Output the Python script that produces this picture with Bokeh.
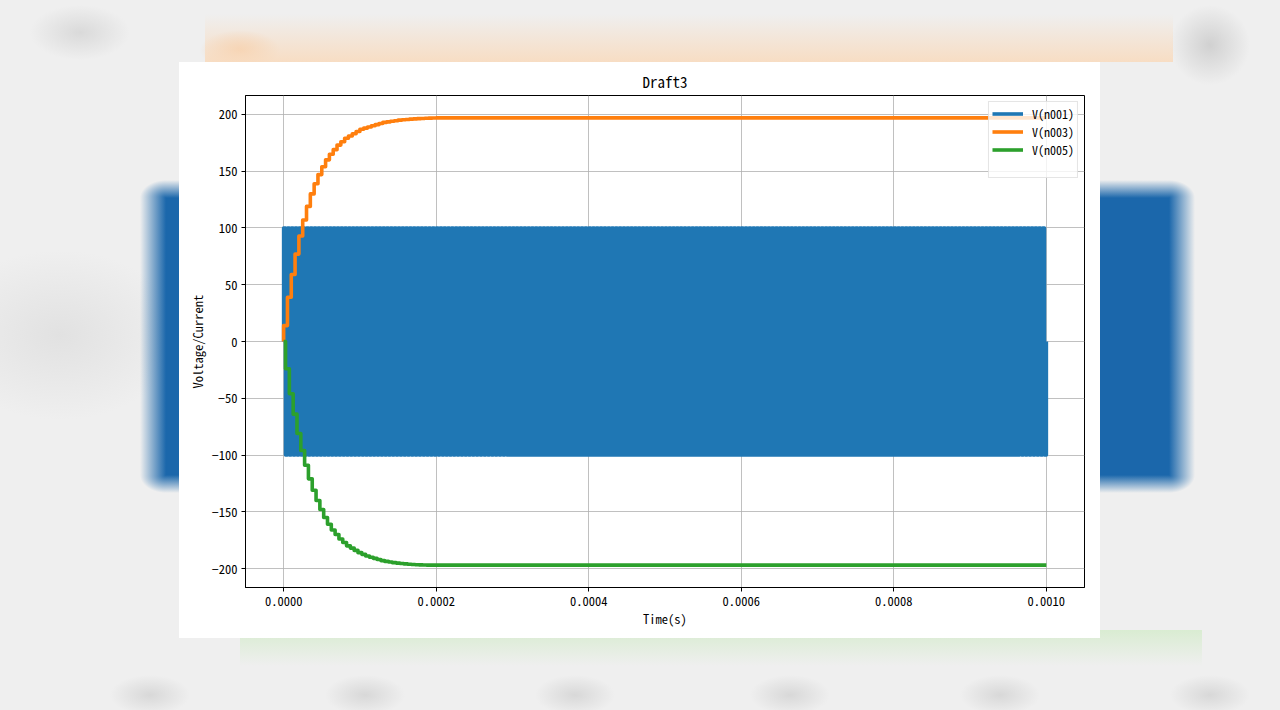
from bokeh.plotting import figure
from bokeh.models import FixedTicker, Range1d, LegendItem
from bokeh.embed import file_html
from bokeh.resources import INLINE

# ---------------- data ----------------
title_text = "Draft3"
x_label = "Time(s)"
y_label = "Voltage/Current"
series_names = ["V(n001)", "V(n003)", "V(n005)"]
series_colors = ["#1f77b4", "#ff7f0e", "#2ca02c"]

x_ticks = [0.0, 0.0002, 0.0004, 0.0006, 0.0008, 0.0010]
x_tick_labels = ["0.0000", "0.0002", "0.0004", "0.0006", "0.0008", "0.0010"]
y_ticks = [-200, -150, -100, -50, 0, 50, 100, 150, 200]
y_tick_labels = ["\u2212200", "\u2212150", "\u2212100", "\u221250", "0", "50", "100", "150", "200"]

# V(n001): square wave source
src_levels = [100.0, -100.0]     # high / low level
src_period = 5e-6                # one cycle (s)
t_end = 0.001                    # end of simulation (s)

# V(n003): level after each source cycle (charging staircase)
n003_levels = [14, 39, 59, 77, 93, 107, 119, 130, 139, 147, 154, 160, 165,
               169, 173, 176, 179, 181, 183, 185, 187, 188, 189, 190, 191,
               192, 193, 193.5, 194, 194.5, 195, 195.3, 195.6, 195.9, 196.1,
               196.3, 196.5, 196.7, 196.8, 196.9, 197]
# V(n005): level after each source cycle (negative staircase, half cycle later)
n005_levels = [-24, -46, -64, -81, -96, -109, -121, -131, -140, -148, -155,
               -161, -166, -170, -174, -177, -180, -182, -184, -186, -187.5,
               -189, -190, -191, -192, -193, -193.7, -194.3, -194.8, -195.2,
               -195.6, -195.9, -196.2, -196.4, -196.6, -196.8, -196.9, -197]

# ---------------- build the traces ----------------
n_cycles = int(round(t_end / src_period))
src_x, src_y = [0.0], [0.0]
for k in range(n_cycles):
    t0 = k * src_period
    th = t0 + src_period / 2
    t1 = t0 + src_period
    src_x += [t0, th, th, t1]
    src_y += [src_levels[0], src_levels[0], src_levels[1], src_levels[1]]
src_x.append(t_end)
src_y.append(0.0)


def staircase(levels, shift):
    xs, ys = [0.0], [0.0]
    prev = 0.0
    for k, lv in enumerate(levels):
        t = (k + shift) * src_period
        xs += [t, t]
        ys += [prev, lv]
        prev = lv
    xs.append(t_end)
    ys.append(prev)
    return xs, ys


n003_x, n003_y = staircase(n003_levels, 0.0)
n005_x, n005_y = staircase(n005_levels, 0.5)

all_y = src_y + n003_y + n005_y
ymin, ymax = min(all_y), max(all_y)
ypad = 0.05 * (ymax - ymin)
xpad = 0.05 * t_end

# ---------------- figure ----------------
FONT = "'Noto Sans Mono CJK SC', 'Noto Sans CJK SC', 'DejaVu Sans Mono'"

BLUE = "#1b67ab"
BLUE0 = "rgba(27,103,171,0)"
GREY_BLOB = "radial-gradient(closest-side, rgba(210,210,210,0.8), rgba(210,210,210,0))"
background = ", ".join([
    # white card holding the chart
    "linear-gradient(#ffffff,#ffffff) 179px 62px / 921px 576px no-repeat",
    # blue blurred block behind the card
    f"radial-gradient(ellipse 26px 18px at 100% 100%, {BLUE}, {BLUE0}) 140px 180px / 26px 18px no-repeat",
    f"radial-gradient(ellipse 26px 18px at 0% 100%, {BLUE}, {BLUE0}) 1169px 180px / 26px 18px no-repeat",
    f"radial-gradient(ellipse 26px 18px at 100% 0%, {BLUE}, {BLUE0}) 140px 475px / 26px 18px no-repeat",
    f"radial-gradient(ellipse 26px 18px at 0% 0%, {BLUE}, {BLUE0}) 1169px 475px / 26px 18px no-repeat",
    f"linear-gradient(to bottom, {BLUE0}, {BLUE}) 166px 180px / 1003px 18px no-repeat",
    f"linear-gradient(to top, {BLUE0}, {BLUE}) 166px 475px / 1003px 18px no-repeat",
    f"linear-gradient(to right, {BLUE0} 0px, {BLUE} 26px, {BLUE} 1029px, {BLUE0} 1055px) 140px 198px / 1055px 277px no-repeat",
    # orange glow above the card
    "linear-gradient(to bottom, rgba(250,224,200,0), rgba(249,218,188,0.85)) 205px 14px / 968px 48px no-repeat",
    "radial-gradient(closest-side, rgba(245,190,140,0.7), rgba(245,190,140,0)) 200px 30px / 80px 40px no-repeat",
    # green glow below the card
    "linear-gradient(to top, rgba(222,239,216,0), rgba(216,236,208,0.95)) 240px 630px / 962px 36px no-repeat",
    # grey patches
    "radial-gradient(closest-side, rgba(212,212,212,0.8), rgba(212,212,212,0)) 30px 5px / 100px 55px no-repeat",
    "radial-gradient(closest-side, rgba(205,205,205,0.9), rgba(205,205,205,0)) 1170px 5px / 80px 80px no-repeat",
    "radial-gradient(closest-side, rgba(222,222,222,0.8), rgba(222,222,222,0)) -60px 250px / 240px 170px no-repeat",
    f"{GREY_BLOB} 110px 675px / 80px 40px no-repeat",
    f"{GREY_BLOB} 325px 675px / 80px 40px no-repeat",
    f"{GREY_BLOB} 535px 675px / 80px 40px no-repeat",
    f"{GREY_BLOB} 750px 675px / 80px 40px no-repeat",
    f"{GREY_BLOB} 960px 675px / 80px 40px no-repeat",
    f"{GREY_BLOB} 1170px 675px / 80px 40px no-repeat",
    "#efefef",
])

p = figure(width=1280, height=710, output_backend="svg", toolbar_location=None,
           x_range=Range1d(0 - xpad, t_end + xpad),
           y_range=Range1d(ymin - ypad, ymax + ypad),
           min_border_left=245, min_border_right=196,
           min_border_top=95, min_border_bottom=123,
           title=title_text)
p.styles = {"background": background}
p.border_fill_color = None
p.background_fill_color = "#ffffff"
p.outline_line_color = "#000000"
p.outline_line_width = 1

p.title.align = "center"
p.title.text_font = FONT
p.title.text_font_size = "15px"
p.title.text_font_style = "normal"
p.title.text_color = "#000000"
p.title.standoff = 7

for ax in (p.xaxis[0], p.yaxis[0]):
    ax.axis_line_color = "#000000"
    ax.major_tick_line_color = "#000000"
    ax.major_tick_out = 4
    ax.major_tick_in = 0
    ax.minor_tick_line_color = None
    ax.major_label_text_font = FONT
    ax.major_label_text_font_size = "12.5px"
    ax.major_label_text_color = "#000000"
    ax.major_label_standoff = 4
    ax.axis_label_text_font = FONT
    ax.axis_label_text_font_size = "12.5px"
    ax.axis_label_text_font_style = "normal"
    ax.axis_label_text_color = "#000000"

p.xaxis.ticker = FixedTicker(ticks=x_ticks)
p.xaxis.major_label_overrides = {t: l for t, l in zip(x_ticks, x_tick_labels)}
p.yaxis.ticker = FixedTicker(ticks=y_ticks)
p.yaxis.major_label_overrides = {t: l for t, l in zip(y_ticks, y_tick_labels)}
p.xaxis.axis_label = x_label
p.yaxis.axis_label = y_label
p.xaxis.axis_label_standoff = 0
p.yaxis.axis_label_standoff = 2

p.grid.grid_line_color = "#b0b0b0"
p.grid.grid_line_width = 0.8

lw = 3.6
p.line(src_x, src_y, line_color=series_colors[0], line_width=lw,
       line_join="round", legend_label=series_names[0])
p.line(n003_x, n003_y, line_color=series_colors[1], line_width=lw,
       line_join="round", legend_label=series_names[1])
p.line(n005_x, n005_y, line_color=series_colors[2], line_width=lw,
       line_join="round", legend_label=series_names[2])

# blank row at the bottom of the legend (the original box is taller)
blank = p.line([0.0], [0.0], line_alpha=0)
lg = p.legend[0]
lg.items.append(LegendItem(label=" ", renderers=[blank]))
lg.location = "top_right"
lg.margin = 6
lg.padding = 3
lg.spacing = 1
lg.glyph_width = 31
lg.glyph_height = 15
lg.label_height = 15
lg.label_standoff = 9
lg.label_text_font = FONT
lg.label_text_font_size = "12px"
lg.label_text_color = "#000000"
lg.border_line_color = "#cccccc"
lg.border_line_width = 1
lg.background_fill_color = "#ffffff"
lg.background_fill_alpha = 0.8

open("out.html", "w").write(file_html(p, INLINE))
